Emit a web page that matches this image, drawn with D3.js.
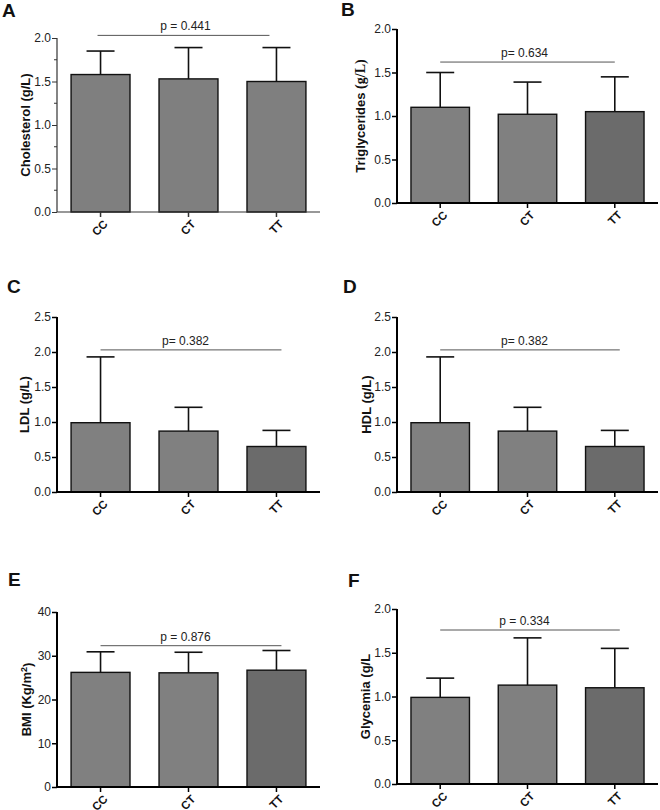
<!DOCTYPE html>
<html>
<head>
<meta charset="utf-8">
<script src="https://cdn.jsdelivr.net/npm/d3@7"></script>
<style>
body { margin: 0; background: #fff; }
svg { font-family: 'Liberation Sans', Arial, sans-serif; }
</style>
</head>
<body>
<svg id="chart" width="660" height="810"></svg>
<script>
// genotype groups
const groups = ['CC', 'CT', 'TT'];

// mean and SD per group
const cholMean = [1.58, 1.53, 1.50];
const cholSd = [0.27, 0.36, 0.39];
const trigMean = [1.10, 1.02, 1.05];
const trigSd = [0.40, 0.37, 0.40];
const ldlMean = [0.99, 0.87, 0.65];
const ldlSd = [0.94, 0.34, 0.23];
const hdlMean = [0.99, 0.87, 0.65];
const hdlSd = [0.94, 0.34, 0.23];
const bmiMean = [26.2, 26.1, 26.7];
const bmiSd = [4.7, 4.7, 4.5];
const glyMean = [0.99, 1.13, 1.10];
const glySd = [0.22, 0.54, 0.45];

const pLabels = ['p = 0.441', 'p= 0.634', 'p= 0.382', 'p= 0.382', 'p = 0.876', 'p = 0.334'];
const yMax = [2, 2, 2.5, 2.5, 40, 2];
const yStep = [0.5, 0.5, 0.5, 0.5, 10, 0.5];
const bracketAt = [2.03, 1.62, 2.03, 2.03, 32.3, 1.76];

let svg = d3.select('#chart');

// panel layout: axis left, top, bottom, right end, label offset, letter pos
let panels = [
	{ letter: 'A', mean: cholMean, sd: cholSd, left: 57, top: 38, bottom: 212, right: 320, lab: 32, lx: 2, ly: 17, thin: true, bx: [-3, -7] },
	{ letter: 'B', mean: trigMean, sd: trigSd, left: 397, top: 29, bottom: 203, right: 658, lab: 37, lx: 341, ly: 16, bx: [0, 0] },
	{ letter: 'C', mean: ldlMean, sd: ldlSd, left: 57, top: 317, bottom: 492, right: 320, lab: 33, lx: 7, ly: 293, bx: [0, 5] },
	{ letter: 'D', mean: hdlMean, sd: hdlSd, left: 397, top: 317, bottom: 492, right: 658, lab: 31, lx: 343, ly: 293, bx: [0, 5] },
	{ letter: 'E', mean: bmiMean, sd: bmiSd, left: 57, top: 612, bottom: 787, right: 320, lab: 31, lx: 8, ly: 586, bx: [0, 5] },
	{ letter: 'F', mean: glyMean, sd: glySd, left: 397, top: 609, bottom: 784, right: 658, lab: 32, lx: 348, ly: 587, bx: [0, 5] }
];
let barFill = ['#808080', '#808080', '#6b6b6b'];

panels.forEach(function(p, k) {
	let g = svg.append('g');
	let x = d3.scaleBand().domain(groups).range([p.left, p.right]).paddingInner(0.33).paddingOuter(0.16);
	let y = d3.scaleLinear().domain([0, yMax[k]]).range([p.bottom, p.top]);
	let axisW = p.thin ? 1.2 : 2;
	let axisCol = p.thin ? '#333' : '#000';

	// bars
	g.selectAll('rect.bar').data(p.mean).join('rect')
		.attr('class', 'bar')
		.attr('x', (d, i) => x(groups[i]))
		.attr('y', d => y(d))
		.attr('width', x.bandwidth())
		.attr('height', d => p.bottom - y(d))
		.style('fill', (d, i) => (k == 0 ? '#7f7f7f' : barFill[i]))
		.style('stroke', '#111')
		.style('stroke-width', 1.4);

	// error bars (upper only)
	let cx = i => x(groups[i]) + x.bandwidth() / 2;
	g.selectAll('line.err').data(p.mean).join('line')
		.attr('class', 'err')
		.attr('x1', (d, i) => cx(i)).attr('x2', (d, i) => cx(i))
		.attr('y1', d => y(d)).attr('y2', (d, i) => y(d + p.sd[i]))
		.style('stroke', '#111').style('stroke-width', 1.6);
	g.selectAll('line.cap').data(p.mean).join('line')
		.attr('class', 'cap')
		.attr('x1', (d, i) => cx(i) - 14).attr('x2', (d, i) => cx(i) + 14)
		.attr('y1', (d, i) => y(d + p.sd[i])).attr('y2', (d, i) => y(d + p.sd[i]))
		.style('stroke', '#111').style('stroke-width', 1.6);

	// y axis
	let ticks = d3.range(0, yMax[k] + yStep[k] / 2, yStep[k]);
	let yAxis = g.append('g').attr('transform', 'translate(' + p.left + ',0)')
		.call(d3.axisLeft(y).tickValues(ticks).tickSize(5).tickPadding(1)
			.tickFormat(d => yStep[k] < 1 ? d3.format('.1f')(d) : d3.format('d')(d)));
	yAxis.select('.domain').attr('d', 'M0,' + p.bottom + 'V' + p.top)
		.style('stroke', axisCol).style('stroke-width', axisW);
	yAxis.selectAll('.tick line').style('stroke', axisCol).style('stroke-width', axisW > 1.5 ? 1.5 : 1);
	yAxis.selectAll('.tick text').style('font-size', '12px').style('fill', '#222')
		.style('font-family', "'Liberation Sans', Arial, sans-serif");
	if (p.thin) {
		// minor ticks
		let minor = d3.range(yStep[k] / 2, yMax[k], yStep[k]);
		g.selectAll('line.minor').data(minor).join('line')
			.attr('class', 'minor')
			.attr('x1', p.left - 3).attr('x2', p.left)
			.attr('y1', d => y(d)).attr('y2', d => y(d))
			.style('stroke', axisCol).style('stroke-width', 1);
	}

	// x axis
	g.append('line')
		.attr('x1', p.left).attr('x2', p.right)
		.attr('y1', p.bottom).attr('y2', p.bottom)
		.style('stroke', axisCol).style('stroke-width', axisW);
	g.selectAll('line.xtick').data(groups).join('line')
		.attr('class', 'xtick')
		.attr('x1', d => x(d) + x.bandwidth() / 2).attr('x2', d => x(d) + x.bandwidth() / 2)
		.attr('y1', p.bottom).attr('y2', p.bottom + 5)
		.style('stroke', axisCol).style('stroke-width', 1.5);
	g.selectAll('text.xlab').data(groups).join('text')
		.attr('class', 'xlab')
		.attr('transform', d => 'translate(' + (x(d) + x.bandwidth() / 2 + 5) + ',' + (p.bottom + 10) + ') rotate(-45)')
		.attr('text-anchor', 'end')
		.attr('dy', '0.35em')
		.style('font-size', '11.5px').style('font-weight', 'bold').style('fill', '#111')
		.text(d => d);

	// significance bracket
	let by = y(bracketAt[k]);
	g.append('line')
		.attr('x1', cx(0) + p.bx[0]).attr('x2', cx(2) + p.bx[1])
		.attr('y1', by).attr('y2', by)
		.style('stroke', '#555').style('stroke-width', 1);
	g.append('text')
		.attr('x', (cx(0) + cx(2)) / 2 - 3)
		.attr('y', by - 5)
		.attr('text-anchor', 'middle')
		.style('font-size', '12px').style('fill', '#222')
		.text(pLabels[k]);

	// y axis title
	let t = g.append('text')
		.attr('transform', 'translate(' + (p.left - p.lab) + ',' + ((p.top + p.bottom) / 2) + ') rotate(-90)')
		.attr('text-anchor', 'middle')
		.attr('dy', '0.35em')
		.style('font-size', '13px').style('font-weight', 'bold').style('fill', '#111');
	if (k == 0) t.text('Cholesterol (g/L)');
	if (k == 1) {
		t.append('tspan').text('Triglycerides ');
		t.append('tspan').style('font-family', "'Liberation Serif', serif").style('font-size', '14px').text('(g/L)');
	}
	if (k == 2) t.text('LDL (g/L)');
	if (k == 3) t.text('HDL (g/L)');
	if (k == 4) {
		t.append('tspan').text('BMI (Kg/m');
		t.append('tspan').attr('dy', '-0.45em').style('font-size', '9px').text('2');
		t.append('tspan').attr('dy', '0.45em').text(')');
	}
	if (k == 5) t.text('Glycemia (g/L');

	// panel letter
	svg.append('text')
		.attr('x', p.lx).attr('y', p.ly)
		.style('font-size', '19px').style('font-weight', 'bold').style('fill', '#111')
		.text(p.letter);
});
</script>
</body>
</html>
